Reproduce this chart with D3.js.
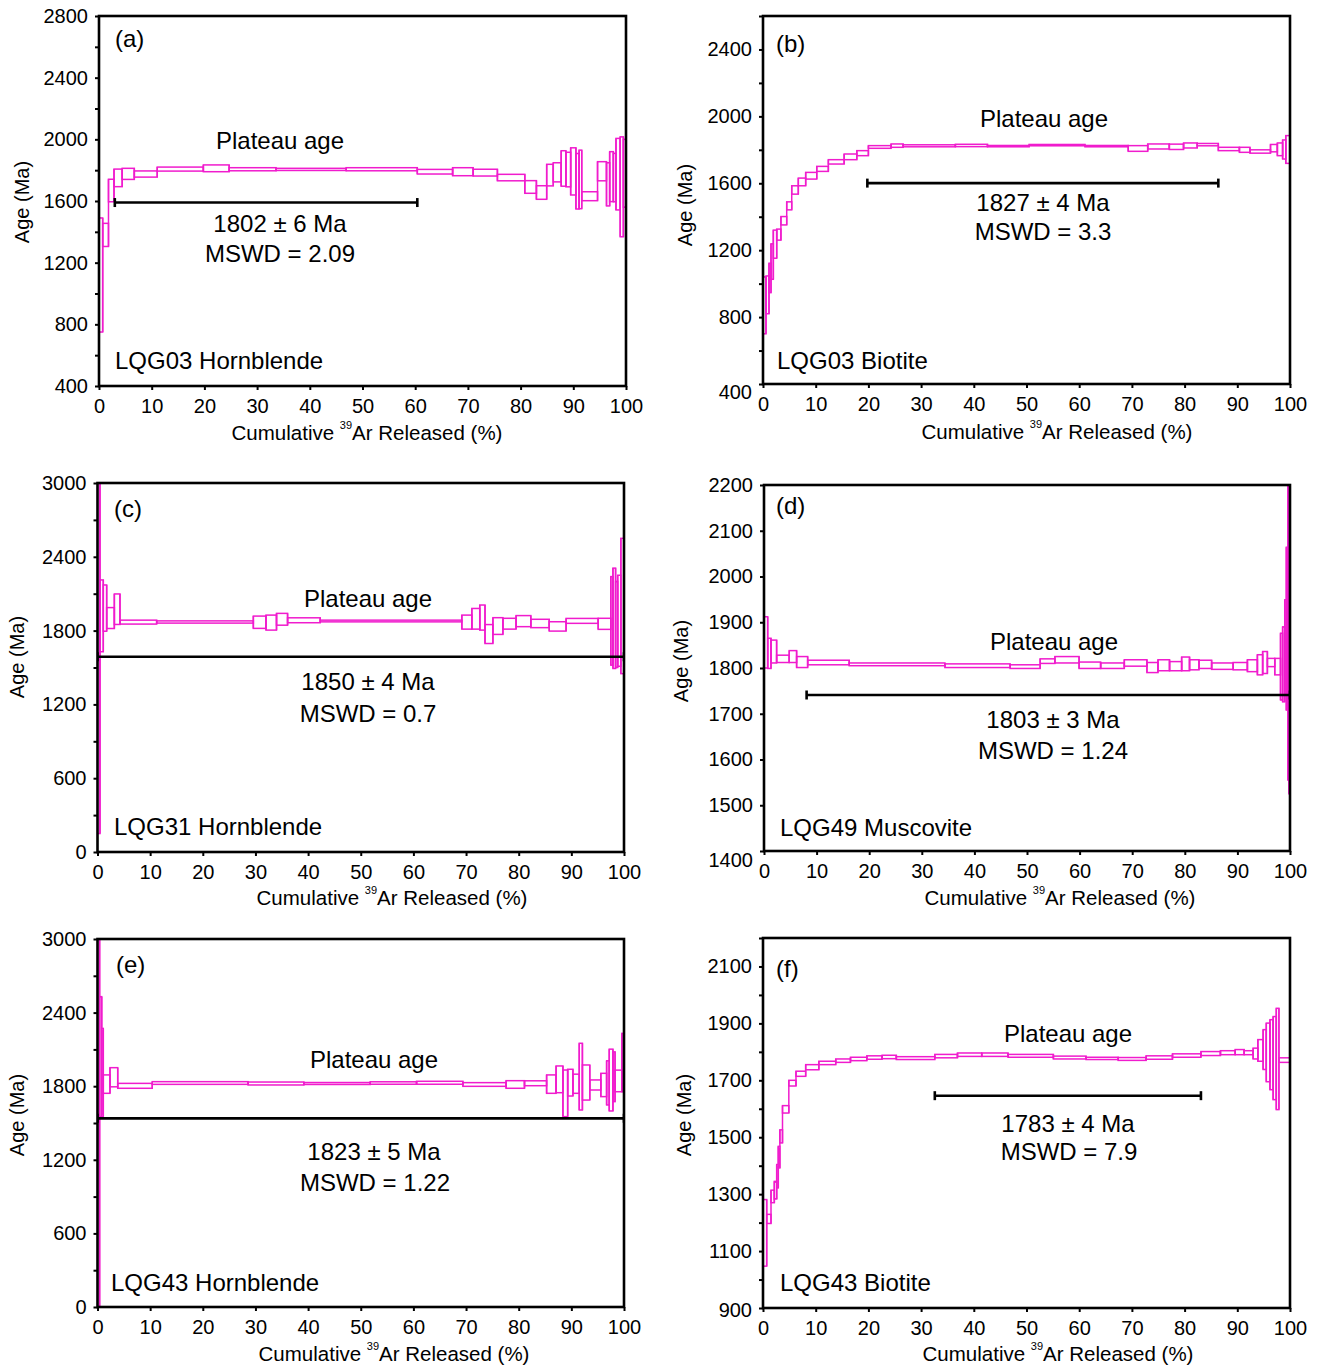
<!DOCTYPE html>
<html><head><meta charset="utf-8">
<script src="https://cdn.jsdelivr.net/npm/d3@7"></script>
<style>
body{margin:0;background:#fff}
text{font-family:"Liberation Sans",Arial,Helvetica,sans-serif;fill:#000}
</style>
</head><body>
<svg id="chart" width="1319" height="1365"></svg>
<script>
// ---------- DATA (cumulative 39Ar boundaries, step ages, error half widths) ----------
const cumA = [0,0.7,1.8,2.85,4.4,6.7,11.05,19.8,24.7,33.6,46.9,60.4,67.1,71.0,75.6,80.8,83.0,84.95,86.2,87.7,88.6,89.5,90.5,91.1,91.6,94.6,96.3,96.9,97.6,98.1,98.9,99.5,100];
const ageA = [1120,1380,1668,1750,1776,1775,1807,1812,1806,1805,1806,1790,1790,1784,1752,1691,1655,1768,1786,1811,1804,1792,1728,1740,1631,1793,1708,1758,1752,1774,1692,1780];
const errA = [370,75,73,57,36,20,13,22,10,7,10,15,26,22,21,41,44,70,62,115,112,153,180,190,29,62,140,162,157,232,324,220];

const cumB = [0,0.57,1.14,1.52,1.96,2.6,3.4,4.5,5.45,6.7,8.1,10.2,12.4,15.4,17.8,20.0,24.3,26.6,36.5,42.6,50.5,61.1,69.3,73.0,77.1,79.8,82.4,86.4,90.4,92.4,96.3,97.6,98.6,99.2,100];
const ageB = [870,933,1034,1132,1236,1293,1376,1465,1560,1608,1645,1686,1728,1758,1780,1817,1825,1824,1826,1822,1828,1822,1808,1820,1818,1826,1831,1805,1800,1790,1810,1803,1802,1802];
const errB = [170,113,88,106,84,33,25,24,25,23,20,15,13,17,15,8,10,6,7,4,4,4,17,15,16,15,7,10,15,10,22,38,57,83];

const cumC = [0,0.47,1.1,1.74,3.2,4.27,11.24,29.6,32.0,34.0,36.1,42.3,69.2,71.1,72.6,73.6,75.1,77.0,79.5,82.3,85.8,89.0,95.1,97.5,97.9,98.4,98.8,99.4,100];
const ageC = [1600,1920,1983,1902,1974,1869,1870,1868,1865,1892,1884,1878,1869,1896,1906,1772,1837,1856,1877,1858,1834,1879,1855,1879,1900,1850,1880,2000];
const errC = [1450,292,188,85,124,16,9,50,61,48,20,7,57,84,102,77,68,44,45,34,38,20,45,360,408,350,370,550];

const cumD = [0,0.7,1.33,2.4,4.8,6.2,8.3,16.2,34.4,46.8,52.5,55.3,59.9,64.0,68.5,72.8,74.9,77.1,79.4,80.9,82.7,85.1,89.2,91.9,93.8,94.8,95.7,97.1,98.2,98.6,99.0,99.3,99.6,99.8,100];
const ageD = [1856,1832,1836,1820,1825,1813,1812,1808,1805,1803,1815,1818,1806,1805,1811,1801,1806,1804,1809,1807,1808,1804,1804,1805,1807,1812,1812,1803,1803,1808,1847,1886,1883,1870];
const errD = [56,33,25,8,13,12,5,3,4,4,5,7,7,6,7,11,12,10,15,11,9,7,8,13,22,24,9,18,73,82,102,178,328,345];

const cumE = [0,0.4,0.8,1.1,2.37,3.84,10.4,28.6,39.2,51.8,60.6,69.4,77.6,81.1,85.3,87.1,88.4,89.3,90.3,91.5,92.1,93.5,95.6,96.7,97.2,97.9,98.3,99.6,100];
const ageE = [1500,2040,1911,1817,1873,1803,1826,1822,1822,1826,1828,1814,1814,1824,1817,1856,1742,1829,1820,1878,1830,1810,1810,1827,1850,1877,1843,1993];
const errE = [1550,490,360,75,78,20,11,12,8,10,12,15,31,20,75,109,190,109,78,272,143,41,95,180,252,203,88,238];

const cumF = [0,0.7,1.52,2.15,2.6,2.9,3.2,3.7,4.9,6.26,8.1,10.6,13.8,16.6,19.7,22.6,25.3,32.6,36.9,41.5,46.5,55.1,61.3,67.4,72.7,77.7,83.1,86.8,89.6,91.3,93.0,93.9,94.9,95.5,96.2,96.8,97.4,97.9,100];
const ageF = [1164,1213,1292,1314,1363,1430,1503,1598,1690,1723,1746,1761,1769,1775,1780,1782,1778,1785,1790,1790,1786,1780,1777,1775,1780,1787,1794,1797,1799,1797,1794,1805,1808,1798,1790,1778,1775,1771];
const errF = [117,16,22,31,41,38,23,13,10,9,9,6,6,6,6,6,5,6,6,6,5,5,4,5,6,6,7,7,9,7,19,38,70,103,123,146,178,8];

// plateau bars: [start %, end %, drawn age level]
const plateauA = [3.0, 60.4, 1590];
const plateauB = [19.8, 86.4, 1601];
const plateauC = [0, 100, 1587];
const plateauD = [8.1, 100, 1741];
const plateauE = [0, 100, 1538];
const plateauF = [32.6, 83.1, 1646];

// tick values
const xTicks = [0,10,20,30,40,50,60,70,80,90,100];
const yLabA = [400,800,1200,1600,2000,2400,2800];
const yMinA = d3.range(400, 2801, 200);
const yLabB = [400,800,1200,1600,2000,2400];
const yMinB = d3.range(400, 2601, 200);
const yLabC = [0,600,1200,1800,2400,3000];
const yMinC = d3.range(0, 3001, 300);
const yLabD = [1400,1500,1600,1700,1800,1900,2000,2100,2200];
const yMinD = yLabD;
const yLabE = [0,600,1200,1800,2400,3000];
const yMinE = d3.range(0, 3001, 300);
const yLabF = [900,1100,1300,1500,1700,1900,2100];
const yMinF = d3.range(900, 2201, 100);

// texts
const textA = ["(a)", "Plateau age", "1802 ± 6 Ma", "MSWD = 2.09", "LQG03 Hornblende"];
const textB = ["(b)", "Plateau age", "1827 ± 4 Ma", "MSWD = 3.3", "LQG03 Biotite"];
const textC = ["(c)", "Plateau age", "1850 ± 4 Ma", "MSWD = 0.7", "LQG31 Hornblende"];
const textD = ["(d)", "Plateau age", "1803 ± 3 Ma", "MSWD = 1.24", "LQG49 Muscovite"];
const textE = ["(e)", "Plateau age", "1823 ± 5 Ma", "MSWD = 1.22", "LQG43 Hornblende"];
const textF = ["(f)", "Plateau age", "1783 ± 4 Ma", "MSWD = 7.9", "LQG43 Biotite"];

// ---------- LAYOUT ----------
const panels = [
  {cum:cumA, age:ageA, err:errA, pl:plateauA, yDom:[400,2800], yLab:yLabA, yMin:yMinA, txt:textA,
   L:99, R:626, T:16, B:386, lastDy:0,
   pos:{tag:[115,38], pa:[280,140], res:[280,223], msw:[280,253], name:[115,360], xt:[367,432], yt:[22,202]}},
  {cum:cumB, age:ageB, err:errB, pl:plateauB, yDom:[400,2600], yLab:yLabB, yMin:yMinB, txt:textB,
   L:763, R:1290, T:16, B:384, lastDy:8,
   pos:{tag:[776,43], pa:[1044,118], res:[1043,202], msw:[1043,231], name:[777,360], xt:[1057,431], yt:[685,205]}},
  {cum:cumC, age:ageC, err:errC, pl:plateauC, yDom:[0,3000], yLab:yLabC, yMin:yMinC, txt:textC,
   L:97.5, R:624, T:483, B:852, lastDy:0,
   pos:{tag:[114,508], pa:[368,598], res:[368,681], msw:[368,713], name:[114,826], xt:[392,897], yt:[17,657]}},
  {cum:cumD, age:ageD, err:errD, pl:plateauD, yDom:[1400,2200], yLab:yLabD, yMin:yMinD, txt:textD,
   L:764, R:1290, T:485, B:851, lastDy:9,
   pos:{tag:[776,505], pa:[1054,641], res:[1053,719], msw:[1053,750], name:[780,827], xt:[1060,897], yt:[681,661]}},
  {cum:cumE, age:ageE, err:errE, pl:plateauE, yDom:[0,3000], yLab:yLabE, yMin:yMinE, txt:textE,
   L:97.5, R:624, T:939, B:1307, lastDy:0,
   pos:{tag:[116,964], pa:[374,1059], res:[374,1151], msw:[375,1182], name:[111,1282], xt:[394,1353], yt:[17,1115]}},
  {cum:cumF, age:ageF, err:errF, pl:plateauF, yDom:[900,2200], yLab:yLabF, yMin:yMinF, txt:textF,
   L:763, R:1290, T:938, B:1308, lastDy:2,
   pos:{tag:[776,968], pa:[1068,1033], res:[1068,1123], msw:[1069,1151], name:[780,1282], xt:[1058,1353], yt:[684,1115]}}
];

const MAG = "#f01ccd";
const svg = d3.select("#chart");

panels.forEach((p, i) => {
  const x = d3.scaleLinear().domain([0,100]).range([p.L, p.R]);
  const y = d3.scaleLinear().domain(p.yDom).range([p.B, p.T]);
  const g = svg.append("g");
  const cid = "clip" + i;
  svg.append("clipPath").attr("id", cid).append("rect")
     .attr("x", p.L).attr("y", p.T).attr("width", p.R - p.L).attr("height", p.B - p.T);

  // steps (boxes)
  const steps = p.age.map((a, k) => ({c0:p.cum[k], c1:p.cum[k+1], a:a, e:p.err[k]}));
  const sg = g.append("g").attr("clip-path", `url(#${cid})`);
  sg.selectAll("rect").data(steps).join("rect")
   .attr("x", d => x(d.c0))
   .attr("width", d => Math.max(0.6, x(d.c1) - x(d.c0)))
   .attr("y", d => y(d.a + d.e))
   .attr("height", d => Math.max(0.8, y(d.a - d.e) - y(d.a + d.e)))
   .attr("fill", "none").attr("stroke", MAG).attr("stroke-width", 1.5);

  // vertical connectors between consecutive steps (continuous staircase)
  const links = steps.slice(1).map((s, k) => {
    const prev = steps[k];
    return {c: s.c0,
            lo: Math.min(prev.a - prev.e, s.a - s.e),
            hi: Math.max(prev.a + prev.e, s.a + s.e)};
  });
  sg.selectAll("line.lk").data(links).join("line").attr("class", "lk")
   .attr("x1", d => x(d.c)).attr("x2", d => x(d.c))
   .attr("y1", d => y(d.hi)).attr("y2", d => y(d.lo))
   .attr("stroke", MAG).attr("stroke-width", 1.5);

  // plateau bar
  const pg = g.append("g").attr("clip-path", `url(#${cid})`);
  pg.append("line").attr("x1", x(p.pl[0])).attr("x2", x(p.pl[1]))
    .attr("y1", y(p.pl[2])).attr("y2", y(p.pl[2]))
    .attr("stroke", "#000").attr("stroke-width", 2.6);
  [p.pl[0], p.pl[1]].forEach(v => {
    pg.append("line").attr("x1", x(v)).attr("x2", x(v))
      .attr("y1", y(p.pl[2]) - 4.5).attr("y2", y(p.pl[2]) + 4.5)
      .attr("stroke", "#000").attr("stroke-width", 2.6);
  });

  // axes
  const ax = g.append("g").attr("transform", `translate(0,${p.B})`)
    .call(d3.axisBottom(x).tickValues(xTicks).tickSize(4).tickPadding(9));
  ax.select(".domain").remove();
  ax.selectAll("line").attr("stroke", "#000").attr("stroke-width", 2);
  ax.selectAll("text").attr("font-size", 20).attr("font-family", '"Liberation Sans",Arial,sans-serif');

  const ay = g.append("g").attr("transform", `translate(${p.L},0)`)
    .call(d3.axisLeft(y).tickValues(p.yMin).tickSize(4).tickPadding(7)
      .tickFormat(d => p.yLab.includes(d) ? String(d) : ""));
  ay.select(".domain").remove();
  ay.selectAll("line").attr("stroke", "#000").attr("stroke-width", 2);
  ay.selectAll("text").attr("font-size", 20).attr("font-family", '"Liberation Sans",Arial,sans-serif')
    .attr("transform", d => d === p.yDom[0] ? `translate(0,${p.lastDy})` : null);

  // frame
  g.append("rect").attr("x", p.L).attr("y", p.T).attr("width", p.R - p.L).attr("height", p.B - p.T)
   .attr("fill", "none").attr("stroke", "#000").attr("stroke-width", 2.6);

  // annotations
  const t = p.txt, ps = p.pos;
  const addT = (s, xy, anchor, size) => g.append("text").attr("x", xy[0]).attr("y", xy[1])
      .attr("text-anchor", anchor).attr("dominant-baseline", "central").attr("font-size", size).text(s);
  addT(t[0], ps.tag, "start", 24);
  addT(t[1], ps.pa, "middle", 24);
  addT(t[2], ps.res, "middle", 24);
  addT(t[3], ps.msw, "middle", 24);
  addT(t[4], ps.name, "start", 24);

  // axis titles
  const xt = g.append("text").attr("x", ps.xt[0]).attr("y", ps.xt[1]).attr("text-anchor", "middle")
    .attr("dominant-baseline", "central").attr("font-size", 20.5);
  xt.append("tspan").text("Cumulative ");
  xt.append("tspan").attr("font-size", 11).attr("dy", -7).text("39");
  xt.append("tspan").attr("dy", 7).text("Ar Released (%)");

  g.append("text").attr("transform", `translate(${ps.yt[0]},${ps.yt[1]}) rotate(-90)`)
   .attr("text-anchor", "middle").attr("dominant-baseline", "central").attr("font-size", 20).text("Age (Ma)");
});
</script>
</body></html>
